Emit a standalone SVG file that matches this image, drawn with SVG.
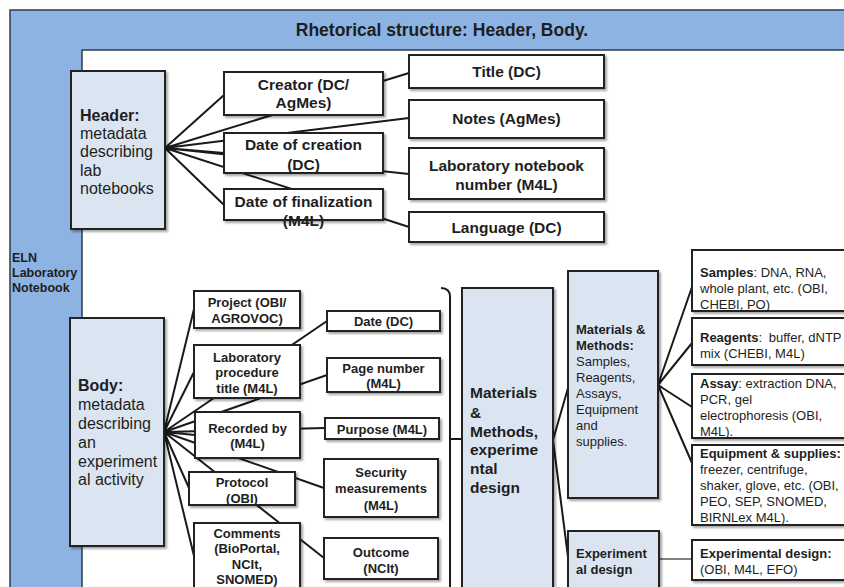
<svg xmlns="http://www.w3.org/2000/svg" width="844" height="587" viewBox="0 0 844 587">
<defs>
<filter id="sh" x="-10%" y="-10%" width="130%" height="130%">
<feDropShadow dx="2" dy="2" stdDeviation="1" flood-color="#000" flood-opacity="0.35"/>
</filter>
<style>
text{font-family:"Liberation Sans",Arial,sans-serif;fill:#1e1e1e}
.b{font-weight:bold}
.t15{font-size:15.5px;font-weight:bold;text-anchor:middle}
.t13{font-size:13px;font-weight:bold;text-anchor:middle}
.s13{font-size:13px}
.s16{font-size:16px}
.wb{fill:#fff;stroke:#222;stroke-width:2;filter:url(#sh)}
.lb{fill:#dbe5f1;stroke:#222;stroke-width:2;filter:url(#sh)}
.c{stroke:#1a1a1a;stroke-width:2;fill:none}
</style>
</defs>
<g id="frame">
<rect x="10" y="10" width="900" height="700" fill="#8db3e2" stroke="#2c3b4d" stroke-width="1.5"/>
<rect x="82" y="50" width="900" height="700" fill="#fff" stroke="#2c3b4d" stroke-width="1.5"/>
<text x="442" y="36" class="b" font-size="17.5" text-anchor="middle">Rhetorical structure: Header, Body.</text>
<text x="12" y="262" class="b" font-size="12.5">ELN</text>
<text x="12" y="277" class="b" font-size="12.5">Laboratory</text>
<text x="12" y="292" class="b" font-size="12.5">Notebook</text>
</g>
<g id="connectors">
<path class="c" d="M165,148L224,95M165,148L409,73M165,148L409,118M165,148L224,153M165,148L409,174M165,148L409,227M165,148L224,205"/>
<path class="c" d="M164,432L194,309M164,432L194,372M164,432L327,321M164,432L327,375M164,432L195,435M164,432L325,428M164,432L324,488M164,432L189,488M164,432L324,558M164,432L194,556"/>
<path class="c" d="M441,288Q450,288 450,297L450,600M450,439L462,439"/>
<path class="c" d="M553,440L568,388M553,440L568,557"/>
<path class="c" d="M658,385L692,287M658,385L692,343M658,385L692,407M658,385L692,463"/>
<path d="M659,559L692,559" stroke="#555" stroke-width="1.5" fill="none"/>
</g>
<g id="header">
<rect class="lb" x="71" y="71" width="94" height="158"/>
<text x="80" y="121" class="s16 b">Header:</text>
<text x="80" y="139" class="s16">metadata</text>
<text x="80" y="157" class="s16">describing</text>
<text x="80" y="176" class="s16">lab</text>
<text x="80" y="194" class="s16">notebooks</text>
</g>
<g id="creator">
<rect class="wb" x="224" y="72" width="159" height="43"/>
<text x="303.5" y="90" class="t15">Creator (DC/</text>
<text x="303.5" y="108" class="t15">AgMes)</text>
</g>
<g id="date-creation">
<rect class="wb" x="224" y="133" width="159" height="40"/>
<text x="303.5" y="150" class="t15">Date of creation</text>
<text x="303.5" y="170" class="t15">(DC)</text>
</g>
<g id="date-finalization">
<rect class="wb" x="224" y="189" width="159" height="31"/>
<text x="303.5" y="207" class="t15">Date of finalization</text>
<text x="303.5" y="226" class="t15">(M4L)</text>
</g>
<g id="title">
<rect class="wb" x="409" y="55" width="195" height="33"/>
<text x="506.5" y="77" class="t15">Title (DC)</text>
</g>
<g id="notes">
<rect class="wb" x="409" y="100" width="195" height="38"/>
<text x="506.5" y="124" class="t15">Notes (AgMes)</text>
</g>
<g id="lab-notebook-number">
<rect class="wb" x="409" y="148" width="195" height="51"/>
<text x="506.5" y="171" class="t15">Laboratory notebook</text>
<text x="506.5" y="190" class="t15">number (M4L)</text>
</g>
<g id="language">
<rect class="wb" x="409" y="212" width="195" height="30"/>
<text x="506.5" y="233" class="t15">Language (DC)</text>
</g>
<g id="body">
<rect class="lb" x="70" y="318" width="94" height="228"/>
<text x="78" y="391" class="s16 b">Body:</text>
<text x="78" y="410" class="s16">metadata</text>
<text x="78" y="429" class="s16">describing</text>
<text x="78" y="448" class="s16">an</text>
<text x="78" y="467" class="s16">experiment</text>
<text x="78" y="485" class="s16">al activity</text>
</g>
<g id="project">
<rect class="wb" x="194" y="291" width="106" height="37"/>
<text x="247" y="307" class="t13">Project (OBI/</text>
<text x="247" y="323" class="t13">AGROVOC)</text>
</g>
<g id="lab-procedure">
<rect class="wb" x="194" y="345" width="106" height="53"/>
<text x="247" y="362" class="t13">Laboratory</text>
<text x="247" y="377" class="t13">procedure</text>
<text x="247" y="393" class="t13">title (M4L)</text>
</g>
<g id="recorded-by">
<rect class="wb" x="195" y="412" width="105" height="46"/>
<text x="247.5" y="433" class="t13">Recorded by</text>
<text x="247.5" y="448" class="t13">(M4L)</text>
</g>
<g id="protocol">
<rect class="wb" x="189" y="472" width="106" height="33"/>
<text x="242" y="487" class="t13">Protocol</text>
<text x="242" y="503" class="t13">(OBI)</text>
</g>
<g id="comments">
<rect class="wb" x="194" y="523" width="106" height="90"/>
<text x="247" y="538" class="t13">Comments</text>
<text x="247" y="553" class="t13">(BioPortal,</text>
<text x="247" y="569" class="t13">NCIt,</text>
<text x="247" y="584" class="t13">SNOMED)</text>
</g>
<g id="date">
<rect class="wb" x="327" y="311" width="113" height="20"/>
<text x="383.5" y="326" class="t13">Date (DC)</text>
</g>
<g id="page-number">
<rect class="wb" x="327" y="358" width="113" height="34"/>
<text x="383.5" y="373" class="t13">Page number</text>
<text x="383.5" y="388" class="t13">(M4L)</text>
</g>
<g id="purpose">
<rect class="wb" x="325" y="418" width="114" height="21"/>
<text x="382" y="434" class="t13">Purpose (M4L)</text>
</g>
<g id="security">
<rect class="wb" x="324" y="459" width="114" height="58"/>
<text x="381" y="477" class="t13">Security</text>
<text x="381" y="493" class="t13">measurements</text>
<text x="381" y="510" class="t13">(M4L)</text>
</g>
<g id="outcome">
<rect class="wb" x="324" y="538" width="114" height="41"/>
<text x="381" y="557" class="t13">Outcome</text>
<text x="381" y="573" class="t13">(NCIt)</text>
</g>
<g id="materials-methods-design">
<rect class="lb" x="462" y="288" width="91" height="330"/>
<text x="470" y="398" class="b" font-size="15.5">Materials</text>
<text x="470" y="418" class="b" font-size="15.5">&amp;</text>
<text x="470" y="437" class="b" font-size="15.5">Methods,</text>
<text x="470" y="455" class="b" font-size="15.5">experime</text>
<text x="470" y="474" class="b" font-size="15.5">ntal</text>
<text x="470" y="493" class="b" font-size="15.5">design</text>
</g>
<g id="materials-methods">
<rect class="lb" x="568" y="271" width="90" height="227"/>
<text x="576" y="334" class="s13 b">Materials &amp;</text>
<text x="576" y="350" class="s13 b">Methods:</text>
<text x="576" y="366" class="s13">Samples,</text>
<text x="576" y="382" class="s13">Reagents,</text>
<text x="576" y="398" class="s13">Assays,</text>
<text x="576" y="414" class="s13">Equipment</text>
<text x="576" y="430" class="s13">and</text>
<text x="576" y="446" class="s13">supplies.</text>
</g>
<g id="experimental-design-box">
<rect class="lb" x="568" y="531" width="91" height="80"/>
<text x="576" y="558" class="s13 b">Experiment</text>
<text x="576" y="574" class="s13 b">al design</text>
</g>
<g id="samples">
<rect class="wb" x="692" y="250" width="170" height="61"/>
<text x="700" y="277" class="s13"><tspan class="b">Samples</tspan>: DNA, RNA,</text>
<text x="700" y="293" class="s13">whole plant, etc. (OBI,</text>
<text x="700" y="309" class="s13">CHEBI, PO)</text>
</g>
<g id="reagents">
<rect class="wb" x="692" y="318" width="170" height="47"/>
<text x="700" y="342" class="s13"><tspan class="b">Reagents</tspan>: <tspan dx="3">buffer, dNTP</tspan></text>
<text x="700" y="358" class="s13">mix (CHEBI, M4L)</text>
</g>
<g id="assay">
<rect class="wb" x="692" y="374" width="170" height="64"/>
<text x="700" y="388" class="s13"><tspan class="b">Assay</tspan>: extraction DNA,</text>
<text x="700" y="404" class="s13">PCR, gel</text>
<text x="700" y="420" class="s13">electrophoresis (OBI,</text>
<text x="700" y="436" class="s13">M4L).</text>
</g>
<g id="equipment">
<rect class="wb" x="692" y="445" width="170" height="80"/>
<text x="700" y="458" class="s13 b">Equipment &amp; supplies:</text>
<text x="700" y="474" class="s13">freezer, centrifuge,</text>
<text x="700" y="490" class="s13">shaker, glove, etc. (OBI,</text>
<text x="700" y="506" class="s13">PEO, SEP, SNOMED,</text>
<text x="700" y="522" class="s13">BIRNLex M4L).</text>
</g>
<g id="experimental-design">
<rect class="wb" x="692" y="540" width="170" height="40"/>
<text x="700" y="558" class="s13 b">Experimental design:</text>
<text x="700" y="574" class="s13">(OBI, M4L, EFO)</text>
</g>
</svg>
